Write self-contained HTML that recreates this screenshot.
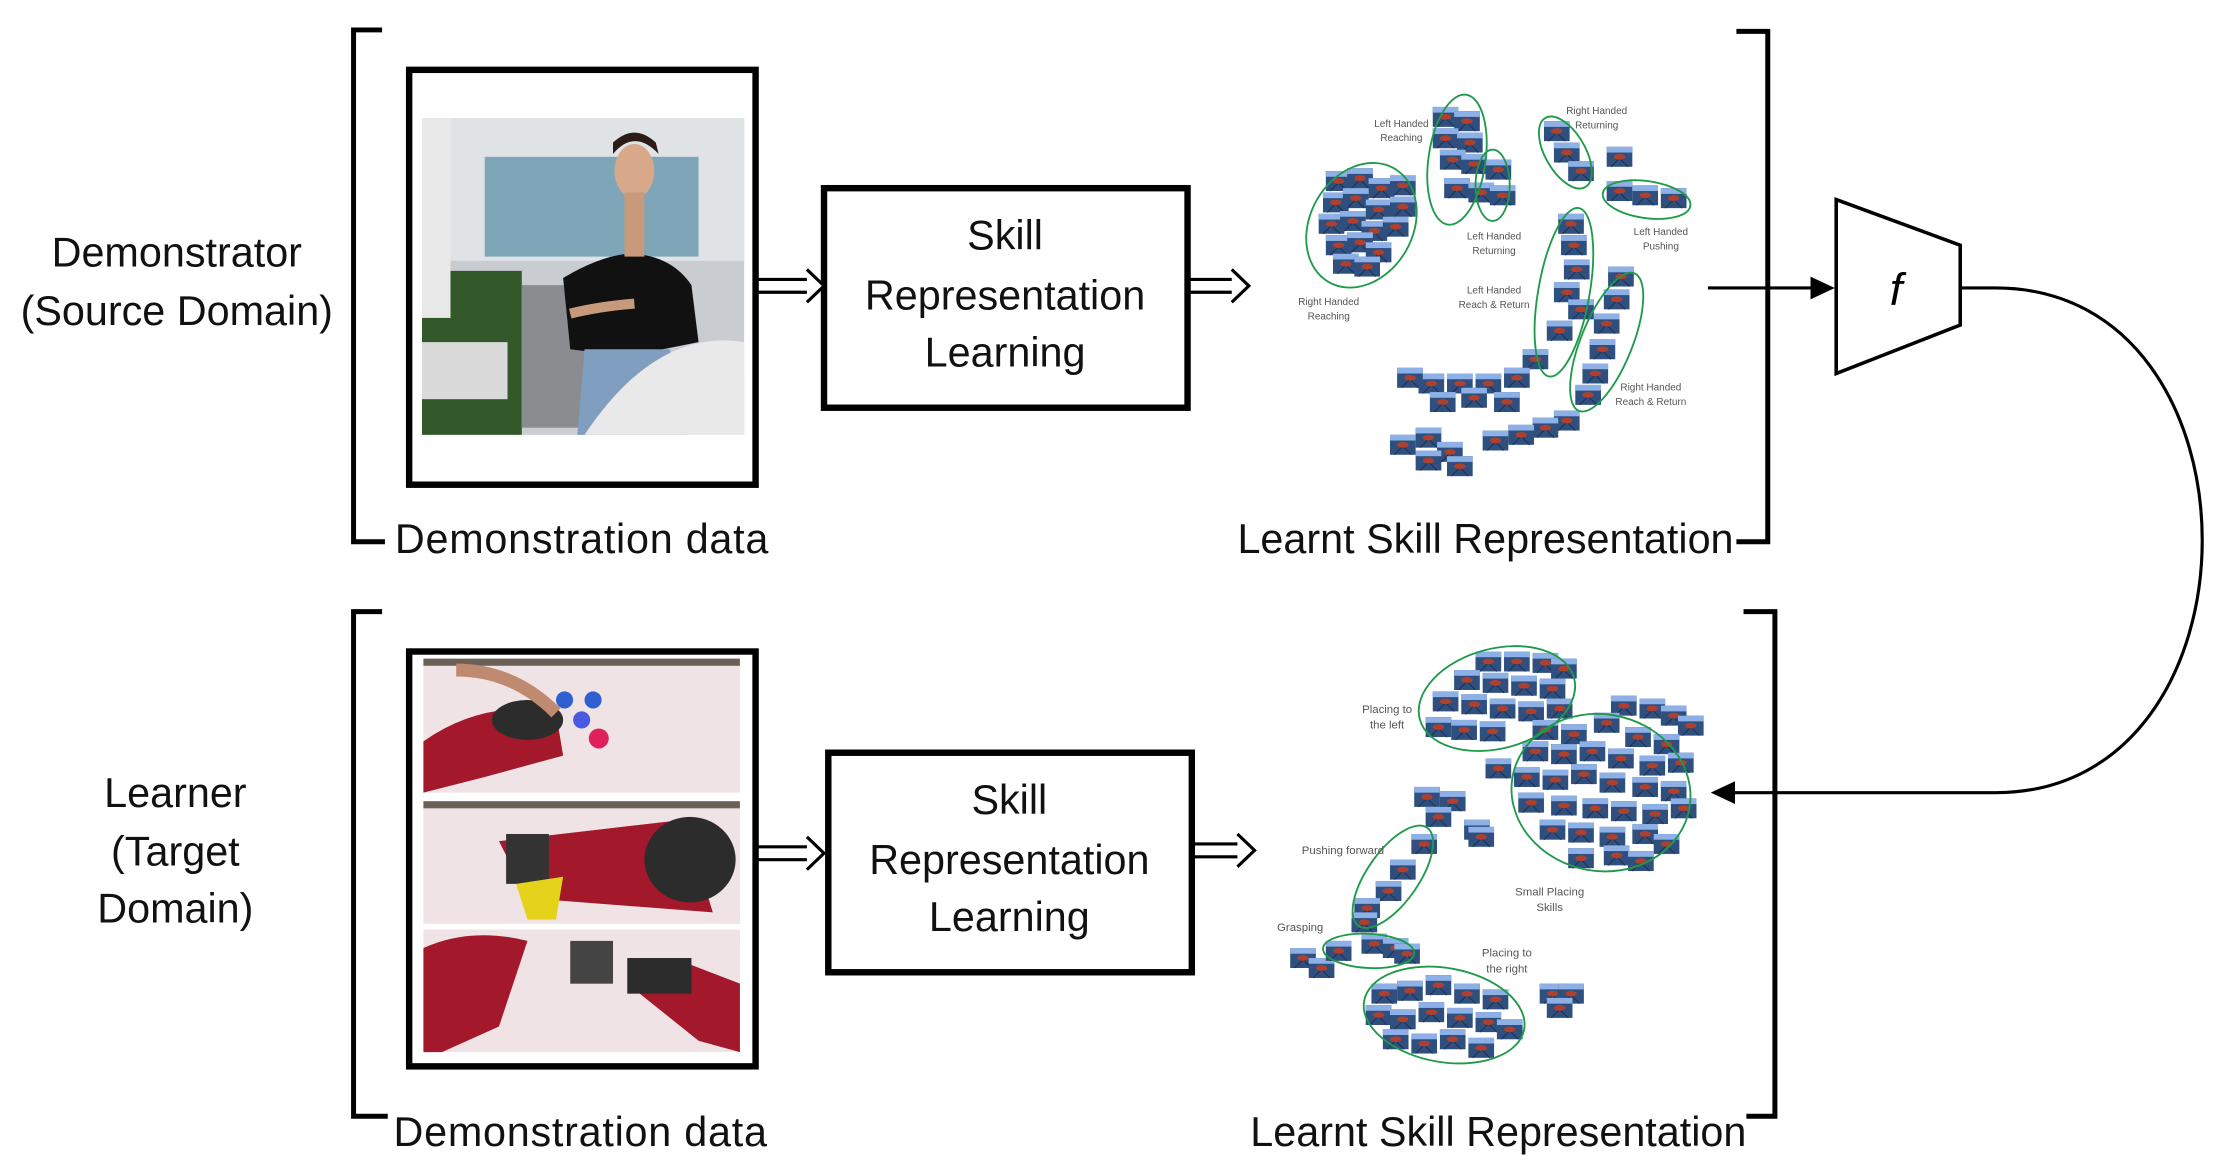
<!DOCTYPE html>
<html><head><meta charset="utf-8"><style>
html,body{margin:0;padding:0;background:#fff;}
svg{display:block;}
text{font-family:"Liberation Sans",sans-serif;}
</style></head><body>
<svg width="2214" height="1173" viewBox="0 0 1553 822.8" xmlns="http://www.w3.org/2000/svg">
<defs>
<g id="t">
<rect x="0" y="0" width="18" height="14" fill="#2f4f7f"/>
<rect x="0" y="0" width="18" height="4" fill="#8db0e6"/>
<path d="M3 14 L9 8 L15 14" fill="none" stroke="#1d3356" stroke-width="0.8"/>
<ellipse cx="9" cy="7" rx="4" ry="2" fill="#b0402e"/>
</g>
</defs>
<rect width="1553" height="823" fill="#fff"/>

<!-- Brackets -->
<g fill="none" stroke="#000" stroke-width="3.5">
<path d="M268 21 H248 V380 H270"/>
<path d="M1218 22 H1240 V380 H1218"/>
<path d="M268 429 H248 V783 H272"/>
<path d="M1223 429 H1245 V783 H1225"/>
</g>

<!-- Left texts -->
<g font-size="29" fill="#111" text-anchor="middle" font-weight="300">
<text x="124" y="187">Demonstrator</text>
<text x="124" y="228">(Source Domain)</text>
<text x="123" y="566">Learner</text>
<text x="123" y="607">(Target</text>
<text x="123" y="647">Domain)</text>
</g>
<g font-size="29" fill="#111">
<text x="277" y="388" textLength="262">Demonstration data</text>
<text x="276" y="804" textLength="262">Demonstration data</text>
<text x="868" y="388" textLength="348">Learnt Skill Representation</text>
<text x="877" y="804" textLength="348">Learnt Skill Representation</text>
</g>

<!-- Top photo frame -->
<rect x="287" y="49" width="243" height="291" fill="#fff" stroke="#000" stroke-width="4.5"/>
<g>
<rect x="296" y="83" width="226" height="222" fill="#c9cdd2"/>
<rect x="296" y="83" width="226" height="100" fill="#dfe3e6"/>
<rect x="340" y="110" width="150" height="70" fill="#7ea6b8"/>
<rect x="296" y="190" width="70" height="115" fill="#33592b"/>
<rect x="296" y="83" width="20" height="140" fill="#e8e8e8"/>
<rect x="366" y="200" width="50" height="100" fill="#8a8c90"/>
<path d="M395 195 Q420 180 440 178 Q470 178 485 200 L490 240 L440 250 L400 245 Z" fill="#111"/>
<ellipse cx="445" cy="120" rx="14" ry="19" fill="#d7a98a"/>
<path d="M430 108 Q445 90 462 108 L460 100 Q445 86 430 100 Z" fill="#2b1d15"/>
<rect x="438" y="135" width="14" height="45" fill="#c79a7c"/>
<path d="M410 245 L470 245 L480 305 L405 305 Z" fill="#7f9ec0"/>
<path d="M410 305 Q460 230 522 240 L522 305 Z" fill="#e9e9e9"/>
<rect x="296" y="240" width="60" height="40" fill="#dadada"/>
<path d="M400 220 Q420 215 445 213" stroke="#c79a7c" stroke-width="7" fill="none"/>
</g>

<!-- Bottom photo frame -->
<rect x="287" y="457" width="243" height="291" fill="#fff" stroke="#000" stroke-width="4.5"/>
<g>
<rect x="297" y="462" width="222" height="94" fill="#efe3e6"/>
<rect x="297" y="462" width="222" height="5" fill="#6b6055"/>
<path d="M297 520 Q340 490 390 500 L395 530 L340 545 L297 556 Z" fill="#a3182a"/>
<ellipse cx="370" cy="505" rx="25" ry="14" fill="#2c2c2c"/>
<path d="M320 470 Q360 470 390 500" stroke="#c08a70" stroke-width="9" fill="none"/>
<circle cx="396" cy="491" r="6" fill="#2f5fd0"/>
<circle cx="416" cy="491" r="6" fill="#2f5fd0"/>
<circle cx="408" cy="505" r="6" fill="#4a5ae0"/>
<circle cx="420" cy="518" r="7" fill="#e0205a"/>
<rect x="297" y="562" width="222" height="86" fill="#efe3e6"/>
<rect x="297" y="562" width="222" height="5" fill="#6b6055"/>
<path d="M350 590 L480 575 L500 640 L370 630 Z" fill="#a3182a"/>
<ellipse cx="484" cy="603" rx="32" ry="30" fill="#2c2c2c"/>
<rect x="355" y="585" width="30" height="35" fill="#333"/>
<path d="M362 620 L395 615 L390 645 L370 645 Z" fill="#e4d21b"/>
<rect x="297" y="652" width="222" height="86" fill="#efe3e6"/>
<path d="M297 665 Q330 650 370 660 L350 720 L310 738 L297 738 Z" fill="#a3182a"/>
<path d="M440 690 L480 675 L519 690 L519 738 L490 730 Z" fill="#a3182a"/>
<rect x="440" y="672" width="45" height="25" fill="#2c2c2c"/>
<rect x="400" y="660" width="30" height="30" fill="#444"/>
</g>

<!-- Skill boxes -->
<g fill="#fff" stroke="#000" stroke-width="4.5">
<rect x="578" y="132" width="255" height="154"/>
<rect x="581" y="528" width="255" height="154"/>
</g>
<g font-size="29" fill="#111" text-anchor="middle">
<text x="705" y="175">Skill</text>
<text x="705" y="217">Representation</text>
<text x="705" y="257">Learning</text>
<text x="708" y="571">Skill</text>
<text x="708" y="613">Representation</text>
<text x="708" y="653">Learning</text>
</g>

<!-- Double arrows -->
<g fill="#fff" stroke="#000" stroke-width="2.2">
<path d="M531 196 H570 M531 205 H570"/>
<path d="M566 189 L578 200.5 L566 212"/>
<path d="M834 196 H868 M834 205 H868"/>
<path d="M864 189 L876 200.5 L864 212"/>
<path d="M531 594 H570 M531 603 H570"/>
<path d="M566 587 L578 598.5 L566 610"/>
<path d="M836 592 H872 M836 601 H872"/>
<path d="M868 585 L880 596.5 L868 608"/>
</g>

<!-- f block and connectors -->
<path d="M1198 202 H1272" stroke="#000" stroke-width="2.2"/>
<path d="M1270 194 L1287 202 L1270 210 Z" fill="#000"/>
<path d="M1288 140 L1375 172 L1375 228 L1288 262 Z" fill="#fff" stroke="#000" stroke-width="2.5"/>
<text x="1330" y="214" font-family="Liberation Serif" font-style="italic" font-size="32" text-anchor="middle" fill="#000">f</text>
<path d="M1375 202 H1400 C1593 202 1593 556 1400 556 H1215" fill="none" stroke="#000" stroke-width="2.2"/>
<path d="M1217 548 L1200 556 L1217 564 Z" fill="#000"/>

<!-- Top scatter tiles -->
<g>
<use href="#t" x="930" y="120"/><use href="#t" x="945" y="118"/><use href="#t" x="960" y="125"/><use href="#t" x="975" y="123"/>
<use href="#t" x="928" y="135"/><use href="#t" x="942" y="132"/><use href="#t" x="958" y="140"/><use href="#t" x="975" y="138"/>
<use href="#t" x="925" y="150"/><use href="#t" x="940" y="148"/><use href="#t" x="955" y="155"/><use href="#t" x="970" y="152"/>
<use href="#t" x="930" y="165"/><use href="#t" x="945" y="163"/><use href="#t" x="958" y="170"/><use href="#t" x="935" y="178"/><use href="#t" x="950" y="180"/>
<use href="#t" x="1005" y="75"/><use href="#t" x="1020" y="78"/><use href="#t" x="1005" y="90"/><use href="#t" x="1022" y="93"/><use href="#t" x="1010" y="105"/>
<use href="#t" x="1025" y="108"/><use href="#t" x="1013" y="125"/><use href="#t" x="1030" y="128"/><use href="#t" x="1042" y="112"/><use href="#t" x="1045" y="130"/>
<use href="#t" x="1083" y="85"/><use href="#t" x="1090" y="100"/><use href="#t" x="1100" y="113"/><use href="#t" x="1127" y="103"/>
<use href="#t" x="1127" y="127"/><use href="#t" x="1145" y="130"/><use href="#t" x="1165" y="132"/>
<use href="#t" x="1093" y="150"/><use href="#t" x="1095" y="165"/><use href="#t" x="1097" y="182"/><use href="#t" x="1090" y="198"/><use href="#t" x="1100" y="210"/><use href="#t" x="1085" y="225"/>
<use href="#t" x="1128" y="187"/><use href="#t" x="1125" y="203"/><use href="#t" x="1118" y="220"/><use href="#t" x="1115" y="238"/><use href="#t" x="1110" y="255"/><use href="#t" x="1105" y="270"/>
<use href="#t" x="1068" y="245"/><use href="#t" x="1055" y="258"/><use href="#t" x="1035" y="262"/><use href="#t" x="1015" y="262"/><use href="#t" x="995" y="262"/><use href="#t" x="980" y="258"/>
<use href="#t" x="1048" y="275"/><use href="#t" x="1025" y="272"/><use href="#t" x="1003" y="275"/>
<use href="#t" x="1090" y="288"/><use href="#t" x="1075" y="293"/><use href="#t" x="1058" y="298"/><use href="#t" x="1040" y="302"/>
<use href="#t" x="975" y="305"/><use href="#t" x="993" y="300"/><use href="#t" x="1008" y="310"/><use href="#t" x="993" y="316"/><use href="#t" x="1015" y="320"/>
</g>
<g fill="none" stroke="#1f9a4a" stroke-width="1.3">
<ellipse cx="955" cy="158" rx="36" ry="46" transform="rotate(30 955 158)"/>
<ellipse cx="1022" cy="112" rx="20" ry="46" transform="rotate(8 1022 112)"/>
<ellipse cx="1047" cy="130" rx="12" ry="25"/>
<ellipse cx="1098" cy="107" rx="14" ry="28" transform="rotate(-30 1098 107)"/>
<ellipse cx="1155" cy="140" rx="31" ry="13" transform="rotate(8 1155 140)"/>
<ellipse cx="1097" cy="205" rx="18" ry="60" transform="rotate(10 1097 205)"/>
<ellipse cx="1127" cy="240" rx="18" ry="52" transform="rotate(22 1127 240)"/>
</g>
<g font-size="7" fill="#555" text-anchor="middle">
<text x="983" y="89">Left Handed</text><text x="983" y="99">Reaching</text>
<text x="932" y="214">Right Handed</text><text x="932" y="224">Reaching</text>
<text x="1048" y="168">Left Handed</text><text x="1048" y="178">Returning</text>
<text x="1120" y="80">Right Handed</text><text x="1120" y="90">Returning</text>
<text x="1165" y="165">Left Handed</text><text x="1165" y="175">Pushing</text>
<text x="1048" y="206">Left Handed</text><text x="1048" y="216">Reach &amp; Return</text>
<text x="1158" y="274">Right Handed</text><text x="1158" y="284">Reach &amp; Return</text>
</g>

<!-- Bottom scatter tiles -->
<g>
<use href="#t" x="1035" y="457"/><use href="#t" x="1055" y="457"/><use href="#t" x="1075" y="458"/><use href="#t" x="1088" y="462"/>
<use href="#t" x="1020" y="470"/><use href="#t" x="1040" y="472"/><use href="#t" x="1060" y="474"/><use href="#t" x="1080" y="476"/>
<use href="#t" x="1005" y="485"/><use href="#t" x="1025" y="487"/><use href="#t" x="1045" y="490"/><use href="#t" x="1065" y="492"/><use href="#t" x="1085" y="490"/>
<use href="#t" x="1000" y="503"/><use href="#t" x="1018" y="505"/><use href="#t" x="1038" y="506"/>
<use href="#t" x="1130" y="488"/><use href="#t" x="1150" y="490"/><use href="#t" x="1165" y="495"/><use href="#t" x="1177" y="502"/>
<use href="#t" x="1075" y="505"/><use href="#t" x="1095" y="508"/><use href="#t" x="1118" y="500"/><use href="#t" x="1140" y="510"/><use href="#t" x="1160" y="515"/>
<use href="#t" x="1068" y="520"/><use href="#t" x="1088" y="522"/><use href="#t" x="1108" y="520"/><use href="#t" x="1128" y="525"/><use href="#t" x="1150" y="530"/><use href="#t" x="1170" y="528"/>
<use href="#t" x="1062" y="538"/><use href="#t" x="1082" y="540"/><use href="#t" x="1102" y="536"/><use href="#t" x="1122" y="542"/><use href="#t" x="1145" y="545"/><use href="#t" x="1165" y="548"/>
<use href="#t" x="1065" y="556"/><use href="#t" x="1088" y="558"/><use href="#t" x="1110" y="560"/><use href="#t" x="1130" y="562"/><use href="#t" x="1152" y="564"/><use href="#t" x="1172" y="560"/>
<use href="#t" x="1080" y="575"/><use href="#t" x="1100" y="577"/><use href="#t" x="1122" y="580"/><use href="#t" x="1145" y="578"/><use href="#t" x="1160" y="585"/>
<use href="#t" x="1100" y="595"/><use href="#t" x="1125" y="593"/><use href="#t" x="1142" y="597"/>
<use href="#t" x="1042" y="532"/><use href="#t" x="992" y="552"/><use href="#t" x="1010" y="555"/><use href="#t" x="1000" y="566"/>
<use href="#t" x="1027" y="575"/><use href="#t" x="1030" y="580"/>
<use href="#t" x="990" y="585"/><use href="#t" x="975" y="603"/><use href="#t" x="965" y="618"/><use href="#t" x="950" y="630"/><use href="#t" x="948" y="640"/>
<use href="#t" x="905" y="665"/><use href="#t" x="918" y="672"/><use href="#t" x="930" y="660"/><use href="#t" x="955" y="655"/><use href="#t" x="970" y="658"/><use href="#t" x="978" y="662"/>
<use href="#t" x="962" y="690"/><use href="#t" x="980" y="688"/><use href="#t" x="1000" y="684"/><use href="#t" x="1020" y="690"/><use href="#t" x="1040" y="694"/>
<use href="#t" x="958" y="705"/><use href="#t" x="975" y="708"/><use href="#t" x="995" y="703"/><use href="#t" x="1015" y="707"/><use href="#t" x="1035" y="710"/><use href="#t" x="1050" y="715"/>
<use href="#t" x="970" y="722"/><use href="#t" x="990" y="725"/><use href="#t" x="1010" y="722"/><use href="#t" x="1030" y="728"/>
<use href="#t" x="1080" y="690"/><use href="#t" x="1093" y="690"/><use href="#t" x="1085" y="700"/>
</g>
<g fill="none" stroke="#1f9a4a" stroke-width="1.3">
<ellipse cx="1050" cy="490" rx="56" ry="35" transform="rotate(-15 1050 490)"/>
<ellipse cx="1123" cy="556" rx="63" ry="55" transform="rotate(10 1123 556)"/>
<ellipse cx="977" cy="615" rx="18" ry="42" transform="rotate(35 977 615)"/>
<ellipse cx="960" cy="667" rx="32" ry="12" transform="rotate(3 960 667)"/>
<ellipse cx="1013" cy="712" rx="57" ry="33" transform="rotate(10 1013 712)"/>
</g>
<g font-size="8" fill="#555" text-anchor="middle">
<text x="973" y="500">Placing to</text><text x="973" y="511">the left</text>
<text x="942" y="599">Pushing forward</text>
<text x="1087" y="628">Small Placing</text><text x="1087" y="639">Skills</text>
<text x="912" y="653">Grasping</text>
<text x="1057" y="671">Placing to</text><text x="1057" y="682">the right</text>
</g>
</svg>
</body></html>
